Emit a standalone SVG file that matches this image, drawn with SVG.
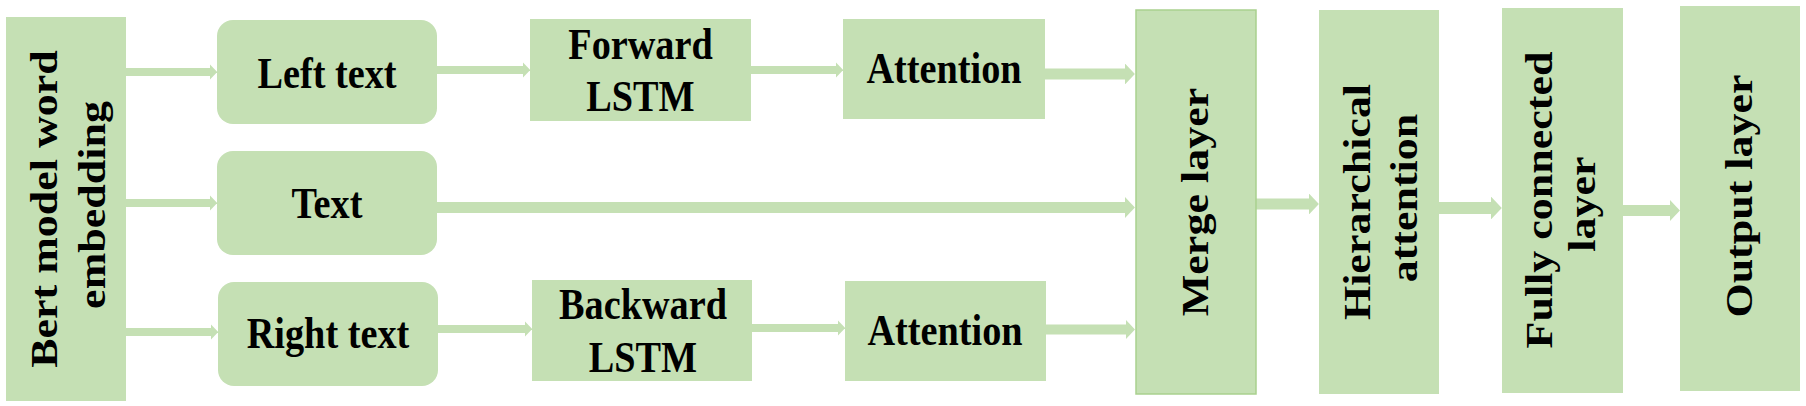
<svg xmlns="http://www.w3.org/2000/svg" width="1806" height="406" viewBox="0 0 1806 406">
<style>
.box{fill:#c5e0b4;}
.merge{fill:#c5e0b4;stroke:#a9d18e;stroke-width:1.5;}
.t{font-family:"Liberation Serif","Times New Roman",serif;font-weight:bold;font-size:45px;fill:#000;text-anchor:middle;}
.v{font-size:44px;}
.c{stroke:#c5e0b4;fill:none;marker-end:url(#ah);}
</style>
<defs>
<marker id="ah" viewBox="0 0 10 20" refX="0" refY="10" markerWidth="0.9" markerHeight="1.9" preserveAspectRatio="none" orient="auto" markerUnits="strokeWidth">
<path d="M0,0 L10,10 L0,20 z" fill="#c5e0b4"/>
</marker>
</defs>
<rect width="1806" height="406" fill="#fff"/>
<g id="connectors">
<line class="c" x1="126" y1="72" x2="210" y2="72" stroke-width="8"/>
<line class="c" x1="126" y1="203" x2="210" y2="203" stroke-width="8"/>
<line class="c" x1="126" y1="332" x2="211" y2="332" stroke-width="8"/>
<line class="c" x1="437" y1="70" x2="523" y2="70" stroke-width="8"/>
<line class="c" x1="438" y1="329" x2="525" y2="329" stroke-width="8"/>
<line class="c" x1="751" y1="70" x2="836" y2="70" stroke-width="8"/>
<line class="c" x1="752" y1="328" x2="838" y2="328" stroke-width="8"/>
<line class="c" x1="1045" y1="74" x2="1125" y2="74" stroke-width="11"/>
<line class="c" x1="437" y1="207.5" x2="1125" y2="207.5" stroke-width="11"/>
<line class="c" x1="1046" y1="329.5" x2="1126" y2="329.5" stroke-width="10"/>
<line class="c" x1="1256" y1="204" x2="1309" y2="204" stroke-width="11"/>
<line class="c" x1="1439" y1="208" x2="1491" y2="208" stroke-width="12"/>
<line class="c" x1="1623" y1="210.5" x2="1670" y2="210.5" stroke-width="11"/>
</g>
<g id="bert">
<rect class="box" x="6" y="17" width="120" height="384"/>
<text class="t v" transform="translate(57,209) scale(0.85,1) rotate(-90)">Bert model word</text>
<text class="t v" transform="translate(105,205) scale(0.85,1) rotate(-90)">embedding</text>
</g>
<g id="left-text">
<rect class="box" x="217" y="20" width="220" height="104" rx="16"/>
<text class="t" transform="translate(327,88) scale(0.85,1)">Left text</text>
</g>
<g id="text">
<rect class="box" x="217" y="151" width="220" height="104" rx="16"/>
<text class="t" transform="translate(327,218) scale(0.85,1)">Text</text>
</g>
<g id="right-text">
<rect class="box" x="218" y="282" width="220" height="104" rx="16"/>
<text class="t" transform="translate(328,348) scale(0.85,1)">Right text</text>
</g>
<g id="forward-lstm">
<rect class="box" x="530" y="19" width="221" height="102"/>
<text class="t" transform="translate(640.5,59) scale(0.85,1)">Forward</text>
<text class="t" transform="translate(640.5,111) scale(0.85,1)">LSTM</text>
</g>
<g id="backward-lstm">
<rect class="box" x="532" y="280" width="220" height="101"/>
<text class="t" transform="translate(643,319) scale(0.85,1)">Backward</text>
<text class="t" transform="translate(643,372) scale(0.85,1)">LSTM</text>
</g>
<g id="attention-top">
<rect class="box" x="843" y="19" width="202" height="100"/>
<text class="t" transform="translate(944,83) scale(0.85,1)">Attention</text>
</g>
<g id="attention-bottom">
<rect class="box" x="845" y="281" width="201" height="100"/>
<text class="t" transform="translate(945,345) scale(0.85,1)">Attention</text>
</g>
<g id="merge-layer">
<rect class="merge" x="1136" y="10" width="120" height="384"/>
<text class="t v" transform="translate(1208,202) scale(0.85,1) rotate(-90)">Merge layer</text>
</g>
<g id="hierarchical-attention">
<rect class="box" x="1319" y="10" width="120" height="384"/>
<text class="t v" transform="translate(1370,202) scale(0.85,1) rotate(-90)">Hierarchical</text>
<text class="t v" transform="translate(1417,198) scale(0.85,1) rotate(-90)">attention</text>
</g>
<g id="fully-connected-layer">
<rect class="box" x="1502" y="8" width="121" height="385"/>
<text class="t v" transform="translate(1552,200) scale(0.85,1) rotate(-90)">Fully connected</text>
<text class="t v" transform="translate(1595,204) scale(0.85,1) rotate(-90)">layer</text>
</g>
<g id="output-layer">
<rect class="box" x="1680" y="6" width="120" height="385"/>
<text class="t v" transform="translate(1752,196) scale(0.85,1) rotate(-90)">Output layer</text>
</g>
</svg>
